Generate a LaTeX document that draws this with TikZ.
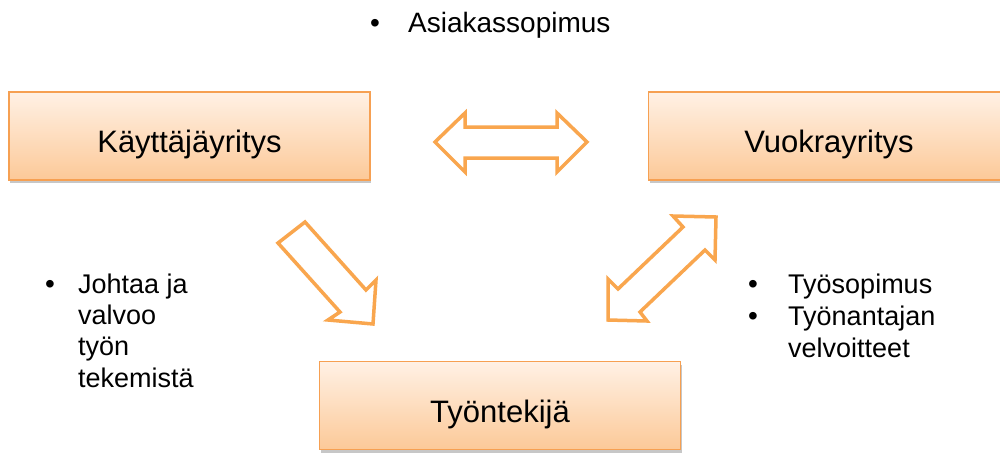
\documentclass[tikz,border=0pt]{standalone}
\usepackage{fontspec}
\setmainfont{Liberation Sans}
\usetikzlibrary{shadows}
\definecolor{boxtop}{RGB}{255,241,229}
\definecolor{boxbot}{RGB}{252,201,152}
\definecolor{boxline}{RGB}{246,160,82}
\definecolor{arrowc}{RGB}{249,166,78}
\tikzset{
  entity/.style={draw=boxline, line width=1.2pt, top color=boxtop, bottom color=boxbot,
    minimum width=361pt, minimum height=88pt, inner sep=0pt,
    text height=39pt, text depth=6pt, font=\fontsize{31}{35}\selectfont,
    drop shadow={shadow xshift=1pt, shadow yshift=-3pt, fill=black, opacity=0.22}},
  blockarrow/.style={draw=arrowc, line width=3.5pt, fill=white, line join=miter},
  sidetext/.style={anchor=base west, inner sep=0pt, font=\fontsize{27}{31}\selectfont},
  toptext/.style={anchor=base west, inner sep=0pt, font=\fontsize{28}{32}\selectfont},
  bulletmark/.style={anchor=base, inner sep=0pt, font=\fontsize{28}{31}\selectfont},
}
\begin{document}
\begin{tikzpicture}[x=1pt,y=-1pt]
\useasboundingbox (0,0) rectangle (1000,453);
\clip (0,0) rectangle (1000,453);
\fill[white] (0,0) rectangle (1000,453);

% boxes
\node[entity] (kay) at (189.5,136) {Käyttäjäyritys};
\node[entity] (vuo) at (829,136) {Vuokrayritys};
\node[entity] (tyo) at (500,405.5) {Työntekijä};

% block arrows
\draw[blockarrow] (435,142) -- (465,113) -- (465,127) -- (557,127) -- (557,113) -- (587,142)
  -- (557,172) -- (557,158) -- (465,158) -- (465,172) -- cycle;
\draw[blockarrow] (278,243) -- (305,222) -- (366,290) -- (376,280) -- (373,324) -- (328,320)
  -- (340,312) -- cycle;
\draw[blockarrow] (716,217) -- (673,216) -- (683,227) -- (618,289) -- (608,279) -- (608,320)
  -- (647,321) -- (640,312) -- (705,250) -- (715,260) -- cycle;

% top text
\node[bulletmark] (b0) at (375,32) {•};
\node[toptext] (t0) at (408,32) {Asiakassopimus};

% left text
\node[bulletmark] (b1) at (50,293) {•};
\node[sidetext] (l1) at (78,293) {Johtaa ja};
\node[sidetext] (l2) at (78,324) {valvoo};
\node[sidetext] (l3) at (78,355) {työn};
\node[sidetext] (l4) at (78,387) {tekemistä};

% right text
\node[bulletmark] (b2) at (753,293) {•};
\node[sidetext] (r1) at (788,293) {Työsopimus};
\node[bulletmark] (b3) at (753,325) {•};
\node[sidetext] (r2) at (788,325) {Työnantajan};
\node[sidetext] (r3) at (788,357) {velvoitteet};
\end{tikzpicture}
\end{document}
